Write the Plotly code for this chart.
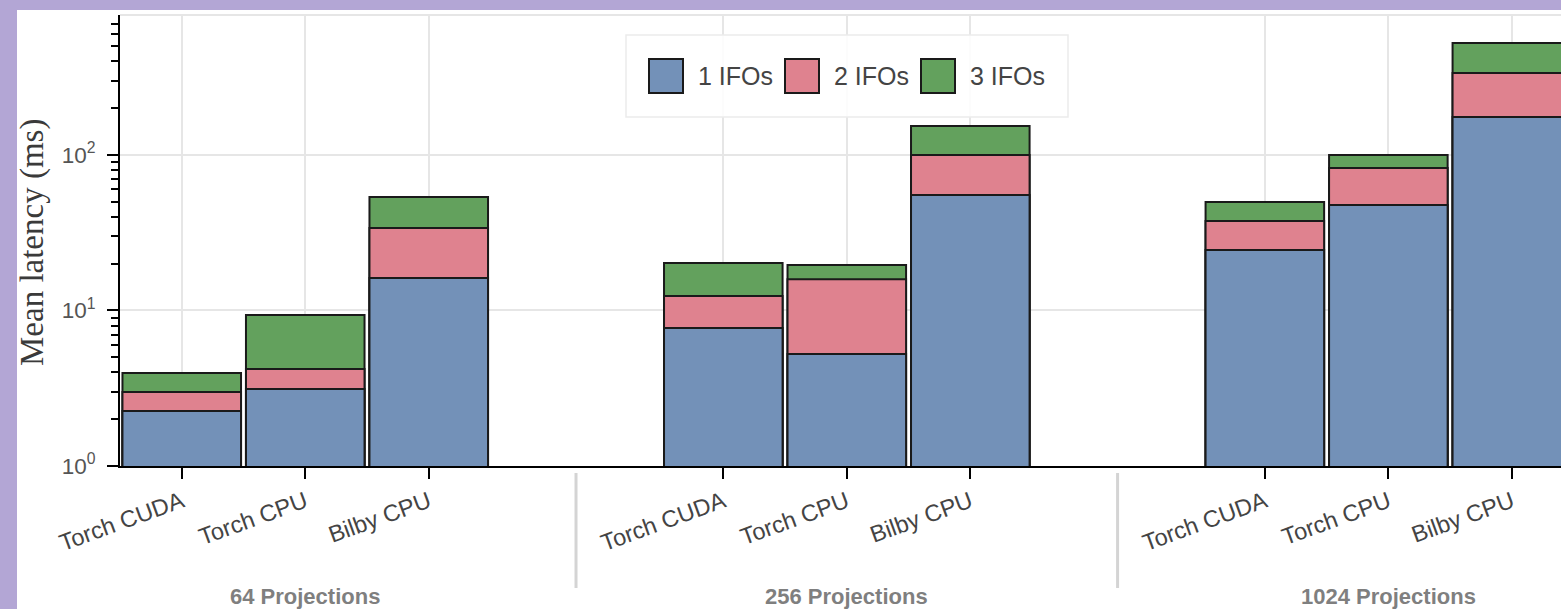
import plotly.graph_objects as go

# ---- data -----------------------------------------------------------------
groups = ["64 Projections", "256 Projections", "1024 Projections"]
backends = ["Torch CUDA", "Torch CPU", "Bilby CPU"]
series = ["1 IFOs", "2 IFOs", "3 IFOs"]
colors = ["#7391b8", "#df828f", "#63a15d"]

# mean latency (ms) for each backend, grouped by number of projections
lat_1ifo = [2.26, 3.13, 16.2, 7.72, 5.25, 55.3, 24.5, 47.7, 175.5]
lat_2ifo = [2.99, 4.21, 33.9, 12.4, 15.9, 100.0, 37.6, 82.5, 337.0]
lat_3ifo = [3.96, 9.35, 53.7, 20.2, 19.6, 153.7, 49.9, 100.0, 525.0]
latencies = [lat_1ifo, lat_2ifo, lat_3ifo]

# ---- geometry -------------------------------------------------------------
W, H = 1561, 609
ML, MR, MT, MB = 120, 0, 15, 143
PW, PH = W - ML - MR, H - MT - MB
GROUP_STEP = 4.385
X_LO = -0.5
X_HI = X_LO + PW / 123.5
Y_TOP = 2.9

x_pos = [g * GROUP_STEP + i for g in range(len(groups)) for i in range(len(backends))]
x_text = [b for _ in groups for b in backends]
group_centers = [g * GROUP_STEP + (len(backends) - 1) / 2 for g in range(len(groups))]
dividers = [(g * GROUP_STEP + len(backends) - 1 + (g + 1) * GROUP_STEP) / 2
            for g in range(len(groups) - 1)]


def px(x):
    return (x - ML) / PW


def py(y):
    return (MT + PH - y) / PH


fig = go.Figure()

# draw the largest series first so the smaller ones sit on top
for name, color, vals in reversed(list(zip(series, colors, latencies))):
    fig.add_trace(go.Bar(
        x=x_pos, y=vals, name=name, width=0.96,
        marker=dict(color=color, line=dict(color="#1a1a1a", width=2)),
        showlegend=False,
    ))

shapes = [
    # white page
    dict(type="rect", xref="paper", yref="paper", x0=px(17), x1=px(1700),
         y0=py(10), y1=py(800), fillcolor="white", line=dict(width=0), layer="below"),
    # top frame line
    dict(type="line", xref="paper", yref="paper", x0=0, x1=1, y0=1, y1=1,
         line=dict(color="#e6e6e6", width=2), layer="below"),
]
for d in dividers:
    shapes.append(dict(type="line", xref="x", yref="paper", x0=d, x1=d,
                       y0=py(473), y1=py(588), line=dict(color="#d4d4d4", width=3)))

annotations = []
for gx, gname in zip(group_centers, groups):
    annotations.append(dict(x=gx, xref="x", y=py(596), yref="paper", text=gname,
                            showarrow=False, xanchor="center", yanchor="middle",
                            font=dict(family="Liberation Sans, Arial", size=22,
                                      color="#7f7f7f", weight="bold")))

annotations.append(dict(x=px(32), y=py(243), xref="paper", yref="paper",
                        text="Mean latency (ms)", textangle=-90, showarrow=False,
                        xanchor="center", yanchor="middle",
                        font=dict(family="Liberation Serif", size=33, color="#3a3a3a")))

# legend box
shapes.append(dict(type="rect", xref="paper", yref="paper", x0=px(626), x1=px(1068),
                   y0=py(117), y1=py(35), fillcolor="rgba(255,255,255,0.85)",
                   line=dict(color="#ebebeb", width=1.5), layer="above"))
sw_left = [649, 785, 921]
for left, name, color in zip(sw_left, series, colors):
    shapes.append(dict(type="rect", xref="paper", yref="paper",
                       x0=px(left), x1=px(left + 34), y0=py(93), y1=py(59),
                       fillcolor=color, line=dict(color="#1a1a1a", width=2),
                       layer="above"))
    annotations.append(dict(x=px(left + 47), y=py(76), xref="paper", yref="paper",
                            text=name, showarrow=False, xanchor="left",
                            yanchor="middle",
                            font=dict(family="Liberation Sans, Arial", size=25,
                                      color="#444444")))

minor_vals = [m * 10 ** e for e in range(3) for m in range(2, 10)]

fig.update_layout(
    width=W, height=H,
    margin=dict(l=ML, r=MR, t=MT, b=MB),
    paper_bgcolor="#b3a6d5",
    plot_bgcolor="white",
    barmode="overlay",
    showlegend=False,
    shapes=shapes,
    annotations=annotations,
    font=dict(family="Liberation Sans, Arial", color="#444444"),
    xaxis=dict(
        range=[X_LO, X_HI],
        tickmode="array", tickvals=x_pos, ticktext=x_text,
        tickangle=-20, tickfont=dict(size=23.5, color="#444444"),
        ticks="outside", ticklen=11, tickwidth=2, tickcolor="black",
        showline=True, linecolor="black", linewidth=2,
        showgrid=True, gridcolor="#e6e6e6", gridwidth=1.5,
        zeroline=False,
    ),
    yaxis=dict(
        type="log", range=[0, Y_TOP],
        tickmode="array", tickvals=[1, 10, 100],
        ticktext=["10<sup>0</sup>", "10<sup>1</sup>", "10<sup>2</sup>"],
        tickfont=dict(size=22.5, color="#555555"),
        ticklabelstandoff=7,
        ticks="outside", ticklen=11, tickwidth=2, tickcolor="black",
        minor=dict(tickmode="array", tickvals=minor_vals, ticks="outside",
                   ticklen=7, tickwidth=1.5, tickcolor="black", showgrid=False),
        showline=True, linecolor="black", linewidth=2,
        showgrid=True, gridcolor="#e6e6e6", gridwidth=1.5,
        zeroline=False,
    ),
)

fig.write_html("out.html")
